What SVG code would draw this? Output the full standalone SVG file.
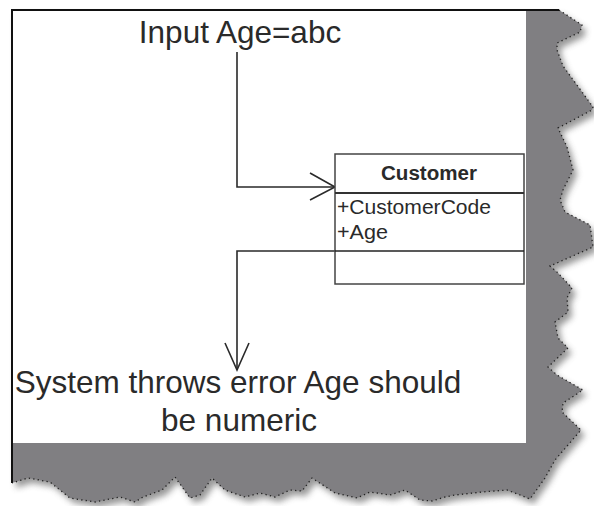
<svg xmlns="http://www.w3.org/2000/svg" width="594" height="506" viewBox="0 0 594 506">
<defs>
<style>
.lbl{font-family:"Liberation Sans",Arial,sans-serif;fill:#2a2a2a;}
.big{font-size:31.5px;}
.cls{font-size:20px;}
.conn{fill:none;stroke:#2a2a2a;stroke-width:1.6;}
.box{fill:#fff;stroke:#444;stroke-width:1.5;}
</style>
<filter id="blur" x="-10%" y="-10%" width="120%" height="120%"><feGaussianBlur stdDeviation="3"/></filter>
<path id="torn" d="M12,10 L559,10 L582,25 L580,32 L557,43 L557,50 L563,66 L593,107 L592,110 L558,128 L567,147 L573,170 L563,190 L560,200 L565,212 L590,225 L593,247 L550,266 L558,273 L572,288 L567,298 L568,312 L555,322 L558,338 L568,348 L548,367 L557,375 L583,390 L563,403 L562,412 L581,430 L568,445 L555,460 L545,478 L530,499 L520,495 L507,490 L482,492 L455,495 L445,497 L432,501 L420,500 L405,490 L390,495 L370,492 L357,498 L335,493 L312,478 L302,491 L290,490 L275,497 L260,493 L245,497 L225,490 L212,478 L200,495 L190,498 L175,477 L162,490 L143,497 L135,502 L120,497 L95,502 L70,498 L60,490 L50,482 L28,478 L12,483 Z"/>
</defs>
<rect width="594" height="506" fill="#fff"/>
<g id="paper">
<use href="#torn" transform="translate(4,5)" fill="#555" opacity="0.6" filter="url(#blur)"/>
<use href="#torn" fill="#807f82"/>
<path d="M559,10 L582,25 L580,32 L557,43 L557,50 L563,66 L593,107 L592,110 L558,128 L567,147 L573,170 L563,190 L560,200 L565,212 L590,225 L593,247 L550,266 L558,273 L572,288 L567,298 L568,312 L555,322 L558,338 L568,348 L548,367 L557,375 L583,390 L563,403 L562,412 L581,430 L568,445 L555,460 L545,478 L530,499 L520,495 L507,490 L482,492 L455,495 L445,497 L432,501 L420,500 L405,490 L390,495 L370,492 L357,498 L335,493 L312,478 L302,491 L290,490 L275,497 L260,493 L245,497 L225,490 L212,478 L200,495 L190,498 L175,477 L162,490 L143,497 L135,502 L120,497 L95,502 L70,498 L60,490 L50,482 L28,478 L12,483" fill="none" stroke="#222" stroke-width="1.3" stroke-dasharray="1.3 3.2"/>
<rect x="12" y="10" width="514" height="433" fill="#fff"/>
<path d="M12,483 L12,10 L559,10" fill="none" stroke="#111" stroke-width="2"/>
</g>
<g id="connectors">
<path class="conn" d="M237,52 L237,187 L335,187"/>
<path class="conn" d="M310,173 L335,187 L310,200"/>
<path class="conn" d="M335,251 L237,251 L237,370"/>
<path class="conn" d="M225,343 L237,370 L249,343"/>
</g>
<g id="input-label">
<text class="lbl big" x="240" y="43" text-anchor="middle">Input Age=abc</text>
</g>
<g id="customer">
<rect class="box" x="335" y="154" width="189" height="130"/>
<line x1="335" y1="193" x2="524" y2="193" stroke="#333" stroke-width="1.8"/>
<line x1="335" y1="251" x2="524" y2="251" stroke="#222" stroke-width="1.6"/>
<text class="lbl" x="429" y="180" text-anchor="middle" font-size="19.5" font-weight="bold" textLength="96" lengthAdjust="spacingAndGlyphs">Customer</text>
<text class="lbl cls" x="337" y="214" textLength="154" lengthAdjust="spacingAndGlyphs">+CustomerCode</text>
<text class="lbl cls" x="337" y="239" textLength="51" lengthAdjust="spacingAndGlyphs">+Age</text>
</g>
<g id="error-label">
<text class="lbl big" x="238" y="393" text-anchor="middle">System throws error Age should</text>
<text class="lbl big" x="239" y="431" text-anchor="middle">be numeric</text>
</g>
</svg>
